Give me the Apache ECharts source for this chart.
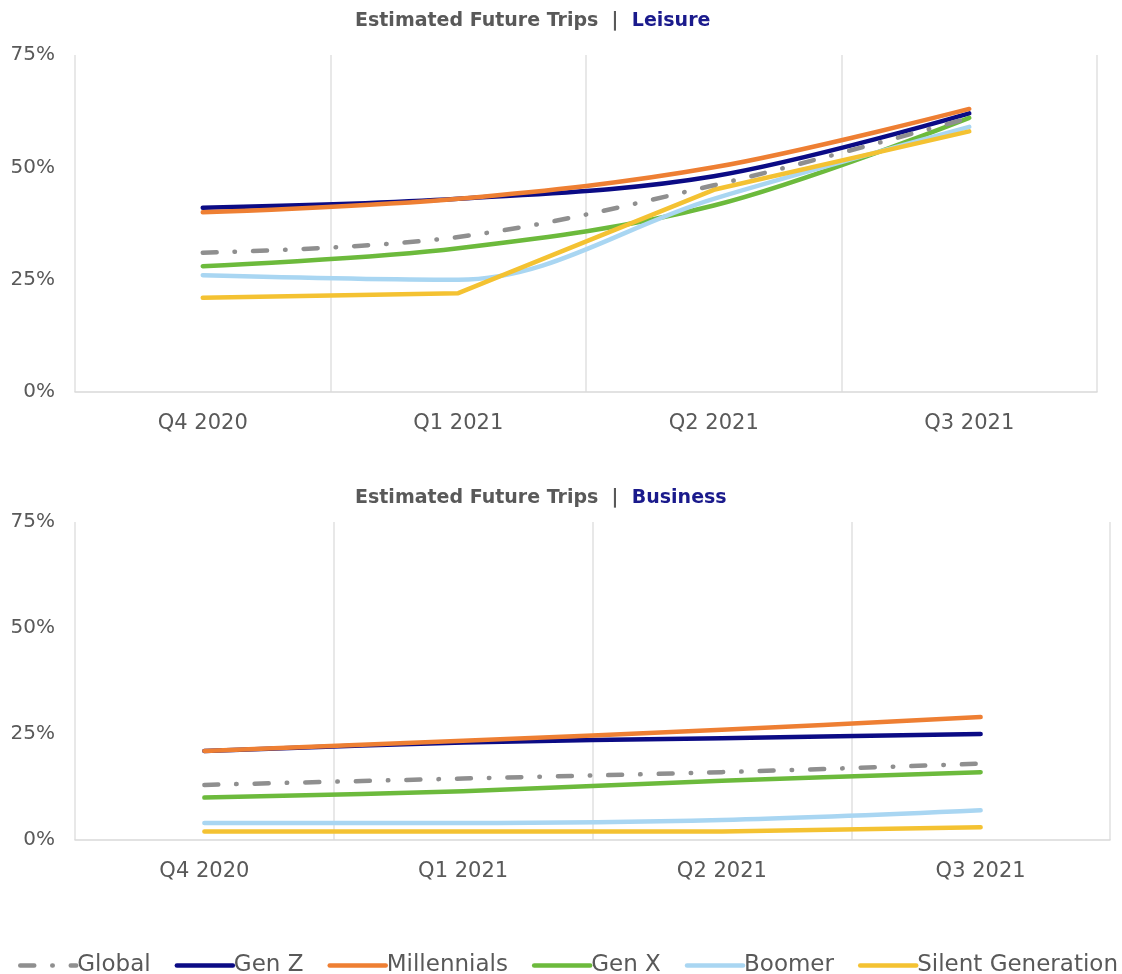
<!DOCTYPE html>
<html>
<head>
<meta charset="utf-8">
<script src="https://cdn.jsdelivr.net/npm/echarts@6/dist/echarts.min.js"></script>
<style>
  html, body { margin: 0; padding: 0; background: #ffffff; }
  #chart { width: 1122px; height: 974px; }
</style>
</head>
<body>
<div id="chart"></div>
<script>
// Quarters on the horizontal axis
const quarters = ['Q4 2020', 'Q1 2021', 'Q2 2021', 'Q3 2021'];
const yTicks = [0, 25, 50, 75];

// Share of respondents planning trips (%), leisure
const leisureGlobal     = [31, 34.5, 46, 61];
const leisureGenZ       = [41, 43, 48, 62];
const leisureMillennial = [40, 43, 50, 63];
const leisureGenX       = [28, 32, 41.5, 61];
const leisureBoomer     = [26, 25, 43, 59];
const leisureSilent     = [21, 22, 45, 58];

// Share of respondents planning trips (%), business
const businessGlobal     = [13, 14.5, 16, 18];
const businessGenZ       = [21, 23, 24, 25];
const businessMillennial = [21, 23.4, 26, 29];
const businessGenX       = [10, 11.5, 14, 16];
const businessBoomer     = [4, 4, 4.7, 7];
const businessSilent     = [2, 2, 2, 3];

const groupNames = ['Global', 'Gen Z', 'Millennials', 'Gen X', 'Boomer', 'Silent Generation'];
const groupColors = ['#8f8f8f', '#0b0b85', '#ee7f33', '#6cba3c', '#a9d6f2', '#f4c232'];

const FONT = 'DejaVu Sans';
const TEXT_GREY = '#595959';

function lineSeries(name, idx, data, axisIndex) {
  const isGlobal = name === 'Global';
  // the Silent Generation series is drawn with straight segments
  const smoothing = name === 'Silent Generation' ? false : 0.35;
  return {
    name: name,
    type: 'line',
    xAxisIndex: axisIndex,
    yAxisIndex: axisIndex,
    data: data,
    smooth: smoothing,
    symbol: 'none',
    z: isGlobal ? 3 : 2 + idx * 0.01,
    lineStyle: {
      color: groupColors[idx],
      width: 4.5,
      type: isGlobal ? [14, 18, 0.5, 18] : 'solid',
      cap: 'round',
      join: 'round'
    },
    itemStyle: { color: groupColors[idx] }
  };
}

const leisureSets = [leisureGlobal, leisureGenZ, leisureMillennial, leisureGenX, leisureBoomer, leisureSilent];
const businessSets = [businessGlobal, businessGenZ, businessMillennial, businessGenX, businessBoomer, businessSilent];

// Draw order: Global on top of the others
const drawOrder = [4, 5, 3, 1, 2, 0];
const series = [];
drawOrder.forEach(i => series.push(lineSeries(groupNames[i], i, leisureSets[i], 0)));
drawOrder.forEach(i => series.push(lineSeries(groupNames[i], i, businessSets[i], 1)));

function xAxisFor(gridIndex) {
  return {
    type: 'category',
    gridIndex: gridIndex,
    data: quarters,
    boundaryGap: true,
    axisLine: { show: true, lineStyle: { color: '#d9d9d9', width: 1.5 } },
    axisTick: { show: false },
    axisLabel: { color: TEXT_GREY, fontFamily: FONT, fontSize: 21, margin: 21 },
    splitLine: { show: true, lineStyle: { color: '#e0e0e0', width: 1.5 } }
  };
}

function yAxisFor(gridIndex) {
  return {
    type: 'value',
    gridIndex: gridIndex,
    min: yTicks[0],
    max: yTicks[yTicks.length - 1],
    interval: 25,
    axisLine: { show: false },
    axisTick: { show: false },
    splitLine: { show: false },
    axisLabel: { color: TEXT_GREY, fontFamily: FONT, fontSize: 20, margin: 20, formatter: '{value}%' }
  };
}

function titleFor(topPx, leftPx, word) {
  return {
    text: '{a|Estimated Future Trips  |  }{b|' + word + '}',
    left: leftPx,
    top: topPx,
    textStyle: {
      rich: {
        a: { color: TEXT_GREY, fontFamily: FONT, fontWeight: 'bold', fontSize: 19 },
        b: { color: '#1a1a8c', fontFamily: FONT, fontWeight: 'bold', fontSize: 19 }
      }
    }
  };
}

const chart = echarts.init(document.getElementById('chart'), null, { renderer: 'canvas' });
chart.setOption({
  backgroundColor: '#ffffff',
  animation: false,
  title: [titleFor(7, 350, 'Leisure'), titleFor(484, 350, 'Business')],
  grid: [
    { left: 75, right: 25, top: 55, height: 337 },
    { left: 75, right: 12, top: 522, height: 318 }
  ],
  xAxis: [xAxisFor(0), xAxisFor(1)],
  yAxis: [yAxisFor(0), yAxisFor(1)],
  legend: {
    data: groupNames,
    left: 18,
    top: 954,
    width: 1104,
    padding: 0,
    itemWidth: 56,
    itemHeight: 10,
    itemGap: 24,
    itemStyle: { opacity: 0 },
    lineStyle: { width: 4.5 },
    textStyle: { color: TEXT_GREY, fontFamily: FONT, fontSize: 23, padding: [0, 0, 0, -4] }
  },
  series: series
});
</script>
</body>
</html>
